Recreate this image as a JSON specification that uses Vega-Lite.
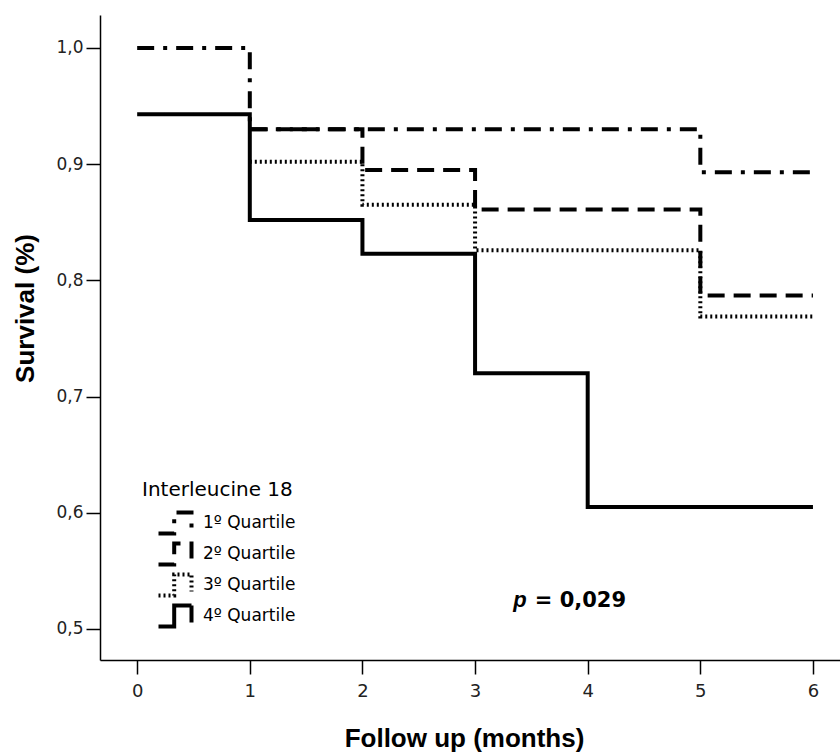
{
  "$schema": "https://vega.github.io/schema/vega-lite/v6.json",
  "width": 740,
  "height": 645,
  "autosize": {"type": "none"},
  "padding": {"left": 100, "top": 15, "right": 0, "bottom": 96},
  "background": "white",
  "config": {
    "view": {"stroke": null},
    "font": "Liberation Sans",
    "axis": {
      "grid": false,
      "domainColor": "black",
      "domainWidth": 1.5,
      "tickColor": "black",
      "tickWidth": 1.5,
      "tickSize": 14,
      "labelColor": "#222",
      "labelFont": "DejaVu Sans",
      "titleColor": "black",
      "titleFont": "Liberation Sans",
      "titleFontWeight": "bold",
      "titleFontSize": 26
    }
  },
  "layer": [
    {
      "data": {
        "values": [
          {"time": 0, "surv": 1.0, "group": "1º Quartile"},
          {"time": 1, "surv": 0.930, "group": "1º Quartile"},
          {"time": 5, "surv": 0.893, "group": "1º Quartile"},
          {"time": 6, "surv": 0.893, "group": "1º Quartile"},
          {"time": 1, "surv": 0.930, "group": "2º Quartile"},
          {"time": 2, "surv": 0.895, "group": "2º Quartile"},
          {"time": 3, "surv": 0.861, "group": "2º Quartile"},
          {"time": 5, "surv": 0.787, "group": "2º Quartile"},
          {"time": 6, "surv": 0.787, "group": "2º Quartile"},
          {"time": 1, "surv": 0.902, "group": "3º Quartile"},
          {"time": 2, "surv": 0.865, "group": "3º Quartile"},
          {"time": 3, "surv": 0.826, "group": "3º Quartile"},
          {"time": 5, "surv": 0.769, "group": "3º Quartile"},
          {"time": 6, "surv": 0.769, "group": "3º Quartile"},
          {"time": 0, "surv": 0.943, "group": "4º Quartile"},
          {"time": 1, "surv": 0.852, "group": "4º Quartile"},
          {"time": 2, "surv": 0.823, "group": "4º Quartile"},
          {"time": 3, "surv": 0.720, "group": "4º Quartile"},
          {"time": 4, "surv": 0.605, "group": "4º Quartile"},
          {"time": 6, "surv": 0.605, "group": "4º Quartile"}
        ]
      },
      "mark": {"type": "line", "interpolate": "step-after", "color": "black", "strokeCap": "butt"},
      "encoding": {
        "x": {
          "field": "time", "type": "quantitative",
          "scale": {"domain": [-0.33, 6.24], "nice": false, "zero": false},
          "axis": {
            "title": "Follow up (months)",
            "values": [0, 1, 2, 3, 4, 5, 6],
            "format": "d",
            "labelFontSize": 18,
            "labelPadding": 8,
            "titleX": 364,
            "titleY": 78,
            "titleBaseline": "middle",
            "titleAlign": "center"
          }
        },
        "y": {
          "field": "surv", "type": "quantitative",
          "scale": {"domain": [0.4733, 1.0284], "nice": false, "zero": false},
          "axis": {
            "title": "Survival (%)",
            "values": [0.5, 0.6, 0.7, 0.8, 0.9, 1.0],
            "labelExpr": "replace(format(datum.value, '.1f'), '.', ',')",
            "labelFontSize": 17,
            "labelPadding": 3,
            "titleX": -75,
            "titleY": 293,
            "titleAngle": -90,
            "titleBaseline": "middle",
            "titleAlign": "center"
          }
        },
        "strokeDash": {
          "field": "group", "type": "nominal",
          "scale": {
            "domain": ["1º Quartile", "2º Quartile", "3º Quartile", "4º Quartile"],
            "range": [[17, 9, 4, 9], [17, 9], [2, 3], [1, 0]]
          },
          "legend": {
            "title": "Interleucine 18",
            "orient": "none",
            "legendX": 42,
            "legendY": 465,
            "padding": 0,
            "titleFont": "DejaVu Sans",
            "titleFontSize": 20,
            "titleFontWeight": "normal",
            "titleColor": "black",
            "titlePadding": 11,
            "labelFont": "DejaVu Sans",
            "labelFontSize": 17,
            "labelColor": "black",
            "symbolType": "M-1.65,1.05H-0.08V-1.05H1.65V0.66",
            "symbolSize": 400,
            "symbolStrokeColor": "black",
            "symbolOffset": 21,
            "labelOffset": 16,
            "rowPadding": -16
          }
        },
        "strokeWidth": {
          "field": "group", "type": "nominal",
          "scale": {
            "domain": ["1º Quartile", "2º Quartile", "3º Quartile", "4º Quartile"],
            "range": [4, 4, 2, 3]
          },
          "legend": {
            "title": "Interleucine 18",
            "orient": "none",
            "legendX": 42,
            "legendY": 465,
            "padding": 0,
            "titleFont": "DejaVu Sans",
            "titleFontSize": 20,
            "titleFontWeight": "normal",
            "titleColor": "black",
            "titlePadding": 11,
            "labelFont": "DejaVu Sans",
            "labelFontSize": 17,
            "labelColor": "black",
            "symbolType": "M-1.65,1.05H-0.08V-1.05H1.65V0.66",
            "symbolSize": 400,
            "symbolStrokeColor": "black",
            "symbolOffset": 21,
            "labelOffset": 16,
            "rowPadding": -16
          }
        }
      }
    },
    {
      "data": {"values": [{"time": 3.34, "surv": 0.5192, "t": "p"}]},
      "mark": {"type": "text", "font": "Liberation Sans", "fontSize": 22, "fontWeight": "bold", "fontStyle": "italic", "align": "left", "baseline": "alphabetic", "color": "black"},
      "encoding": {
        "x": {"field": "time", "type": "quantitative"},
        "y": {"field": "surv", "type": "quantitative"},
        "text": {"field": "t"}
      }
    },
    {
      "data": {"values": [{"time": 3.53, "surv": 0.5192, "t": "= 0,029"}]},
      "mark": {"type": "text", "font": "DejaVu Sans", "fontSize": 21, "fontWeight": "bold", "align": "left", "baseline": "alphabetic", "color": "black"},
      "encoding": {
        "x": {"field": "time", "type": "quantitative"},
        "y": {"field": "surv", "type": "quantitative"},
        "text": {"field": "t"}
      }
    }
  ]
}
